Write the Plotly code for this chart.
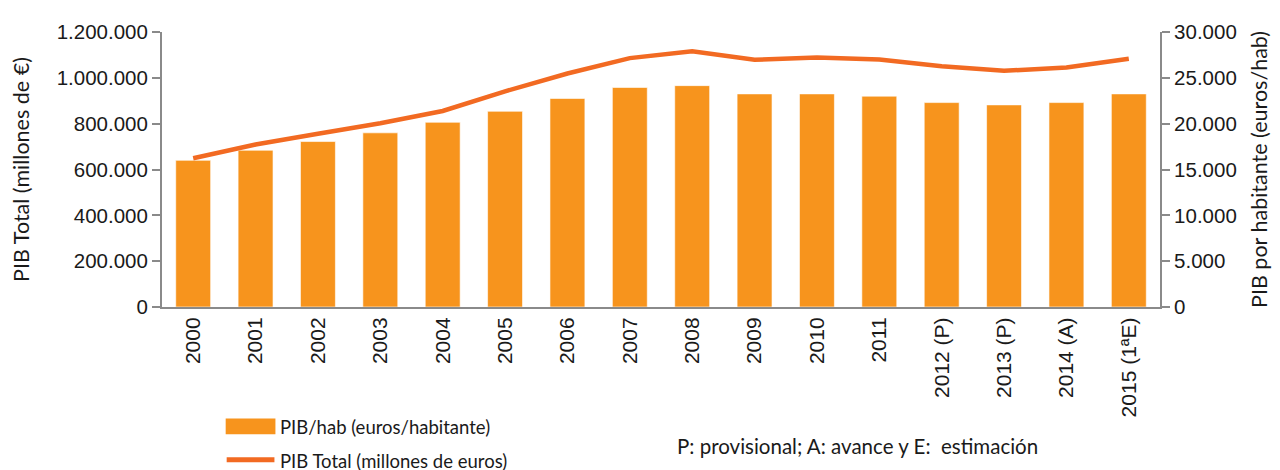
import plotly.graph_objects as go

years = ["2000", "2001", "2002", "2003", "2004", "2005", "2006", "2007", "2008",
         "2009", "2010", "2011", "2012 (P)", "2013 (P)", "2014 (A)", "2015 (1ªE)"]
pib_hab = [16000, 17100, 18050, 19000, 20150, 21350, 22750, 23950, 24150,
           23250, 23250, 23000, 22300, 22050, 22300, 23250]
pib_total = [649000, 709000, 756000, 801500, 855500, 941000, 1019000, 1086000, 1116000,
             1079000, 1089000, 1080500, 1050500, 1030500, 1045000, 1083500]

bar_color = "#F7941D"
line_color = "#F26A22"
axis_color = "#8A8A8A"
font = "Lato"
tick_font = "Liberation Sans"

OFF = 8  # page body margin
W, H = 1280 - OFF, 470 - OFF
L, T = 159 - OFF, 26 - OFF
R = W - (1162 - OFF)
B = H - (307 - OFF)
pw, ph = W - L - R, H - T - B

def px(x):
    return (x - OFF - L) / pw

def py(y):
    return (H - B - (y - OFF)) / ph

fig = go.Figure()
fig.add_trace(go.Bar(x=years, y=pib_hab, name="PIB/hab (euros/habitante)",
                     marker=dict(color=bar_color, line=dict(color="rgba(255,255,255,0.6)", width=1)),
                     yaxis="y", showlegend=False))
fig.add_trace(go.Scatter(x=years, y=pib_total, name="PIB Total (millones de euros)",
                         mode="lines", line=dict(color=line_color, width=4.5),
                         yaxis="y2", showlegend=False))

fig.update_layout(
    width=W, height=H,
    margin=dict(l=L, r=R, t=T, b=B),
    plot_bgcolor="white", paper_bgcolor="white",
    separators=",.",
    bargap=0.44,
    font=dict(family=font, size=18, color="#1a1a1a"),
    xaxis=dict(type="category", tickangle=-90, showline=True, linecolor=axis_color,
               linewidth=2, ticks="", tickfont=dict(size=21, family=tick_font),
               showgrid=False),
    yaxis=dict(side="right", range=[0, 30000], dtick=5000, tickformat=",.0f",
               showline=True, linecolor=axis_color, linewidth=2, ticks="outside",
               ticklen=8, tickwidth=2, tickcolor=axis_color, showgrid=False,
               zeroline=False, tickfont=dict(size=20.5, family=tick_font),
               title=dict(text="PIB por habitante (euros/hab)", standoff=16,
                          font=dict(size=21.5, family=font))),
    yaxis2=dict(side="left", overlaying="y", range=[0, 1200000], dtick=200000,
                tickformat=",.0f", showline=True, linecolor=axis_color, linewidth=2,
                ticks="outside", ticklen=8, tickwidth=2, tickcolor=axis_color,
                showgrid=False, zeroline=False, tickfont=dict(size=20.5, family=tick_font),
                title=dict(text="PIB Total (millones de €)", standoff=22,
                           font=dict(size=21.5, family=font))),
)

# manual legend
fig.add_shape(type="rect", xref="paper", yref="paper",
              x0=px(223), x1=px(273), y0=py(437), y1=py(421),
              fillcolor=bar_color, line=dict(width=0))
fig.add_shape(type="line", xref="paper", yref="paper",
              x0=px(224), x1=px(272), y0=py(463), y1=py(463),
              line=dict(color=line_color, width=5))
fig.add_annotation(xref="paper", yref="paper", x=px(276), y=py(430), xanchor="left",
                   yanchor="middle", showarrow=False, text="PIB/hab (euros/habitante)",
                   font=dict(size=18.5, family=font))
fig.add_annotation(xref="paper", yref="paper", x=px(276), y=py(464), xanchor="left",
                   yanchor="middle", showarrow=False, text="PIB Total (millones de euros)",
                   font=dict(size=18.5, family=font))
fig.add_annotation(xref="paper", yref="paper", x=px(675), y=py(449), xanchor="left",
                   yanchor="middle", showarrow=False,
                   text="P: provisional; A: avance y E:  estimación",
                   font=dict(size=20.5, family=font))

fig.write_html("out.html")
